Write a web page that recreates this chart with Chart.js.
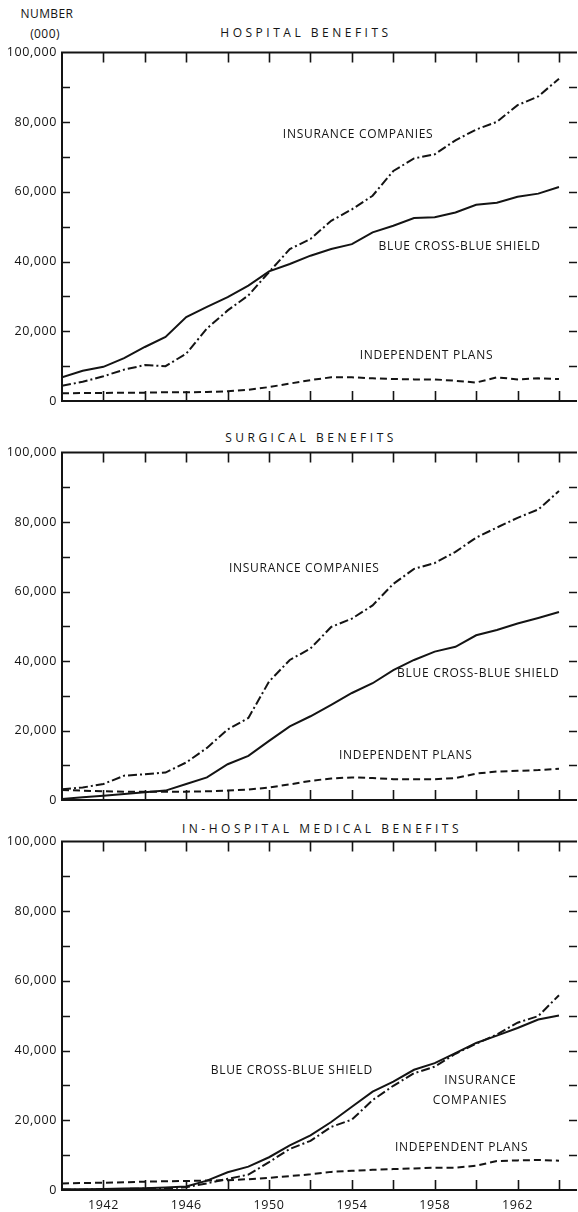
<!DOCTYPE html>
<html>
<head>
<meta charset="utf-8">
<script src="https://cdn.jsdelivr.net/npm/chart.js@4.4.0/dist/chart.umd.min.js"></script>
<style>
  body { margin: 0; background: #fff; width: 578px; height: 1212px; position: relative; overflow: hidden;
         font-family: 'Open Sans', sans-serif; color: #141414; }
  canvas { position: absolute; left: 0; }
  .txt { position: absolute; white-space: nowrap; transform: translate(-50%, -50%); font-size: 12px; letter-spacing: 0.4px; }
  .title { letter-spacing: 3.5px; font-size: 12px; }
</style>
</head>
<body>
<div class="txt" style="left:47px;top:13px">NUMBER</div>
<div class="txt" style="left:45px;top:33px">(000)</div>
<div class="txt title" style="left:306px;top:32px">HOSPITAL BENEFITS</div>
<div class="txt title" style="left:311px;top:437px">SURGICAL BENEFITS</div>
<div class="txt title" style="left:322px;top:828px">IN-HOSPITAL MEDICAL BENEFITS</div>

<canvas id="hospital" width="578" height="375" style="top:40px"></canvas>
<canvas id="surgical" width="578" height="374" style="top:440px"></canvas>
<canvas id="medical" width="578" height="383" style="top:829px"></canvas>

<script>
// persons covered, thousands
const years = [1940, 1941, 1942, 1943, 1944, 1945, 1946, 1947, 1948, 1949, 1950, 1951, 1952,
               1953, 1954, 1955, 1956, 1957, 1958, 1959, 1960, 1961, 1962, 1963, 1964];

const hospitalInsurance = [4400, 5500, 7100, 9000, 10300, 10000, 13600, 20800, 26000, 30300, 37000, 43600, 46500,
                           51700, 55000, 58900, 66000, 69600, 70800, 74800, 77900, 80100, 84900, 87400, 92500];
const hospitalBlueCross = [6800, 8700, 9800, 12300, 15500, 18400, 24100, 27000, 29800, 33100, 37200, 39300, 41700,
                           43600, 45000, 48400, 50300, 52500, 52700, 54100, 56300, 56900, 58600, 59500, 61400];
const hospitalIndependent = [2200, 2300, 2300, 2400, 2400, 2500, 2500, 2600, 2800, 3200, 4000, 5000, 6000,
                             6800, 6800, 6500, 6300, 6200, 6200, 5800, 5300, 6800, 6200, 6500, 6300];

const surgicalInsurance = [3100, 3600, 4600, 7000, 7400, 7900, 10800, 15000, 20300, 23600, 34100, 40300, 43600,
                           49800, 52200, 56000, 62200, 66500, 68200, 71400, 75500, 78400, 81200, 83600, 88900];
const surgicalBlueCross = [300, 800, 1200, 1700, 2200, 2700, 4600, 6500, 10300, 12700, 17000, 21200, 24100,
                           27400, 30800, 33600, 37400, 40300, 42700, 44100, 47400, 48900, 50800, 52400, 54100];
const surgicalIndependent = [2900, 2700, 2500, 2400, 2400, 2400, 2400, 2500, 2700, 3000, 3600, 4500, 5500,
                             6200, 6500, 6300, 6000, 6000, 6000, 6300, 7600, 8200, 8400, 8600, 9000];

const medicalInsurance = [100, 100, 200, 300, 400, 500, 800, 1900, 3200, 4400, 8000, 11800, 14100,
                          18100, 20200, 25800, 29900, 33500, 35400, 39100, 42000, 44600, 48000, 49900, 55900];
const medicalBlueCross = [200, 200, 300, 400, 500, 700, 1000, 2700, 5100, 6700, 9400, 12800, 15700,
                          19500, 23900, 28200, 31100, 34500, 36400, 39300, 42200, 44300, 46500, 48900, 50100];
const medicalIndependent = [1900, 2000, 2100, 2200, 2400, 2500, 2600, 2700, 2800, 3100, 3500, 4000, 4500,
                            5200, 5500, 5800, 6000, 6200, 6400, 6400, 7000, 8300, 8500, 8600, 8400];

const xTickYears = [1942, 1944, 1946, 1948, 1950, 1952, 1954, 1956, 1958, 1960, 1962, 1964];
const xLabelYears = [1942, 1946, 1950, 1954, 1958, 1962];
const yTickValues = [10000, 20000, 30000, 40000, 50000, 60000, 70000, 80000, 90000];
const yLabelValues = [0, 20000, 40000, 60000, 80000, 100000];

// curve captions, anchored at (year, value)
const hospitalNotes = [
    { text: 'INSURANCE COMPANIES', year: 1954.3, value: 76500 },
    { text: 'BLUE CROSS-BLUE SHIELD', year: 1959.2, value: 44200 },
    { text: 'INDEPENDENT PLANS', year: 1957.6, value: 13000 },
];
const surgicalNotes = [
    { text: 'INSURANCE COMPANIES', year: 1951.7, value: 66600 },
    { text: 'BLUE CROSS-BLUE SHIELD', year: 1960.1, value: 36300 },
    { text: 'INDEPENDENT PLANS', year: 1956.6, value: 12900 },
];
const medicalNotes = [
    { text: 'BLUE CROSS-BLUE SHIELD', year: 1951.1, value: 34200 },
    { text: 'INSURANCE', year: 1960.2, value: 31500 },
    { text: 'COMPANIES', year: 1959.7, value: 25800 },
    { text: 'INDEPENDENT PLANS', year: 1959.3, value: 12100 },
];

const ink = '#141414';
const fontFamily = "'Open Sans', sans-serif";

// frame with inward tick marks, plus the curve captions
const frameTicks = {
    id: 'frameTicks',
    beforeDraw(chart) {
        chart.ctx.letterSpacing = '0.6px';
    },
    afterDatasetsDraw(chart, args, opts) {
        const { ctx, chartArea: a, scales: { x, y } } = chart;
        ctx.save();
        ctx.strokeStyle = ink;
        ctx.lineWidth = 2;
        ctx.beginPath();
        ctx.moveTo(a.left, a.top); ctx.lineTo(a.right, a.top);
        ctx.moveTo(a.left, a.top - 1); ctx.lineTo(a.left, a.bottom + 1);
        ctx.moveTo(a.left, a.bottom); ctx.lineTo(a.right, a.bottom);
        ctx.stroke();

        ctx.lineWidth = 1.6;
        ctx.beginPath();
        for (const yr of xTickYears) {
            const px = Math.round(x.getPixelForValue(yr)) + 0.5;
            ctx.moveTo(px, a.top); ctx.lineTo(px, a.top + 10);
            ctx.moveTo(px, a.bottom); ctx.lineTo(px, a.bottom - 10);
        }
        for (const v of yTickValues) {
            const py = Math.round(y.getPixelForValue(v)) + 0.5;
            ctx.moveTo(a.left, py); ctx.lineTo(a.left + 8, py);
            ctx.moveTo(a.right, py); ctx.lineTo(a.right - 8, py);
        }
        ctx.stroke();

        ctx.fillStyle = ink;
        ctx.font = `12px ${fontFamily}`;
        ctx.letterSpacing = '0.7px';
        ctx.textAlign = 'center';
        ctx.textBaseline = 'middle';
        for (const n of opts.notes || []) {
            ctx.fillText(n.text, x.getPixelForValue(n.year), y.getPixelForValue(n.value));
        }
        ctx.restore();
    },
};

function series(vals) {
    return years.map((yr, i) => ({ x: yr, y: vals[i] }));
}

function makeChart(id, ins, bc, ind, notes, showYears) {
    return new Chart(document.getElementById(id), {
        type: 'line',
        data: {
            datasets: [
                { label: 'Insurance companies', data: series(ins), borderDash: [9, 3, 2, 3] },
                { label: 'Blue Cross-Blue Shield', data: series(bc) },
                { label: 'Independent plans', data: series(ind), borderDash: [7, 4] },
            ],
        },
        options: {
            responsive: false,
            animation: false,
            devicePixelRatio: 1,
            layout: { padding: { top: 12, right: 1, left: 0, bottom: 0 } },
            elements: {
                point: { radius: 0 },
                line: { borderWidth: 2, tension: 0, borderColor: ink, borderCapStyle: 'butt', fill: false },
            },
            plugins: {
                legend: { display: false },
                tooltip: { enabled: false },
                frameTicks: { notes },
            },
            scales: {
                x: {
                    type: 'linear',
                    min: 1940,
                    max: 1964.87,
                    grid: { display: false, drawTicks: false },
                    border: { display: false },
                    afterBuildTicks: (s) => { s.ticks = xLabelYears.map(v => ({ value: v })); },
                    afterFit: (s) => { s.height = showYears ? 22 : 14; },
                    ticks: {
                        display: showYears,
                        padding: 8,
                        color: ink,
                        maxRotation: 0,
                        autoSkip: false,
                        font: { family: fontFamily, size: 12.5 },
                        callback: (v) => String(v),
                    },
                },
                y: {
                    min: 0,
                    max: 100000,
                    grid: { display: false, drawTicks: false },
                    border: { display: false },
                    afterBuildTicks: (s) => { s.ticks = yLabelValues.map(v => ({ value: v })); },
                    afterFit: (s) => { s.width = 62; },
                    ticks: {
                        padding: 5,
                        color: ink,
                        font: { family: fontFamily, size: 12.5 },
                        callback: (v) => v.toLocaleString('en-US'),
                    },
                },
            },
        },
        plugins: [frameTicks],
    });
}

makeChart('hospital', hospitalInsurance, hospitalBlueCross, hospitalIndependent, hospitalNotes, false);
makeChart('surgical', surgicalInsurance, surgicalBlueCross, surgicalIndependent, surgicalNotes, false);
makeChart('medical', medicalInsurance, medicalBlueCross, medicalIndependent, medicalNotes, true);
</script>
</body>
</html>
